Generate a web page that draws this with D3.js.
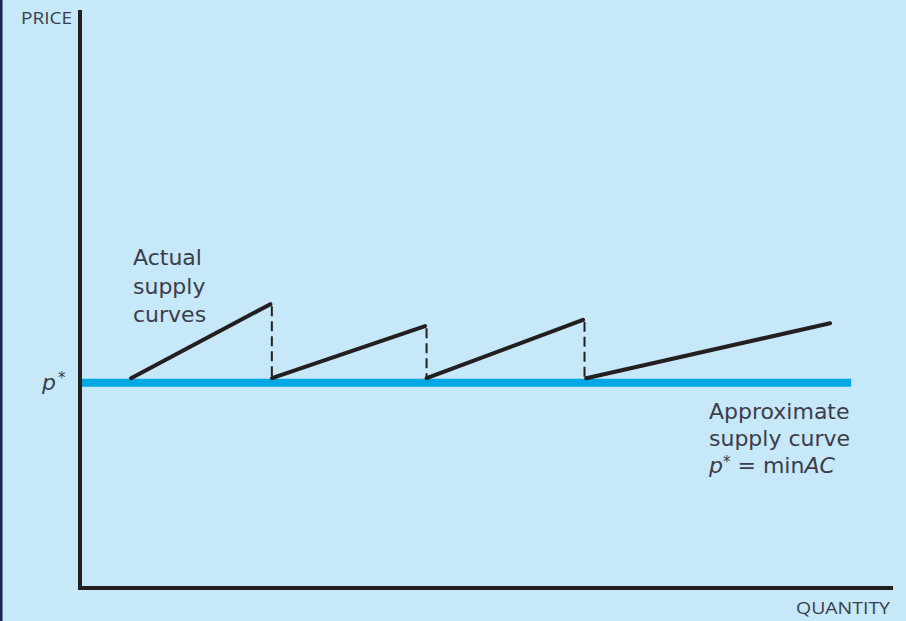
<!DOCTYPE html>
<html lang="en">
<head>
<meta charset="utf-8">
<title>Actual and approximate supply curves</title>
<script src="https://cdn.jsdelivr.net/npm/d3@7"></script>
<style>
  html, body { margin: 0; padding: 0; background: #c6e8f8; }
  svg { display: block; }
  text { fill: #3b3d4a; font-family: "Open Sans", "Noto Sans", sans-serif; }
  text.lab { font-family: "DejaVu Sans", sans-serif; }
</style>
</head>
<body>
<script>
// price level p* = min AC
var pStar = 35.5;
var pStart = 36.3;   // where each actual segment begins
// actual supply segments: quantity at start, quantity at end, price at end
var segStartQ = [6.3, 23.7, 42.8, 62.5];
var segEndQ   = [23.5, 42.6, 62.1, 92.6];
var segEndP   = [49.1, 45.3, 46.4, 45.8];
var approxEndQ = 95.2;

var w = 906, h = 621;
var svg = d3.select("body").append("svg")
    .attr("width", w)
    .attr("height", h);

// navy strip on the left edge
svg.append("rect").attr("x", 0).attr("y", 0).attr("width", 2.5).attr("height", h).attr("fill", "#1d2454");

var x = d3.scaleLinear().domain([0, 100]).range([80, 890]);
var y = d3.scaleLinear().domain([0, 100]).range([588, 10]);

// approximate supply curve
svg.append("line")
    .attr("x1", x(0)).attr("x2", x(approxEndQ))
    .attr("y1", y(pStar)).attr("y2", y(pStar))
    .attr("stroke", "#00a9e6")
    .attr("stroke-width", 8);

// dashed drops
svg.selectAll("line.drop")
   .data(segEndQ.slice(0, 3))
   .enter().append("line")
   .attr("class", "drop")
   .attr("x1", function(d){ return x(d) + 1.5; })
   .attr("x2", function(d){ return x(d) + 1.5; })
   .attr("y1", function(d, i){ return y(segEndP[i]) + 2; })
   .attr("y2", y(pStart))
   .attr("stroke", "#231f20")
   .attr("stroke-width", 2)
   .attr("stroke-dasharray", "10,5");

// actual supply segments
svg.selectAll("line.seg")
   .data(segStartQ)
   .enter().append("line")
   .attr("class", "seg")
   .attr("x1", function(d){ return x(d); })
   .attr("y1", y(pStart))
   .attr("x2", function(d, i){ return x(segEndQ[i]); })
   .attr("y2", function(d, i){ return y(segEndP[i]); })
   .attr("stroke", "#231f20")
   .attr("stroke-width", 4)
   .attr("stroke-linecap", "round");

// axes
svg.append("path")
    .attr("d", "M" + x(0) + "," + y(100) + "V" + y(0) + "H" + (x(100) + 3))
    .attr("fill", "none")
    .attr("stroke", "#231f20")
    .attr("stroke-width", 4);

svg.append("text").attr("x", 21).attr("y", 24)
   .attr("font-size", 16).attr("textLength", 51).attr("lengthAdjust", "spacingAndGlyphs")
   .text("PRICE");
svg.append("text").attr("x", 796).attr("y", 614)
   .attr("font-size", 16).attr("textLength", 94).attr("lengthAdjust", "spacingAndGlyphs")
   .text("QUANTITY");

var ps = svg.append("text").attr("class", "lab").attr("x", 42).attr("y", 390).attr("font-size", 22);
ps.append("tspan").attr("font-style", "italic").text("p");
ps.append("tspan").attr("dx", 2).attr("dy", -7).attr("font-size", 15).text("*");

// labels, one text per line
["Actual", "supply", "curves"].forEach(function(t, i){
    svg.append("text").attr("class", "lab").attr("x", 133).attr("y", 265 + i * 28.5)
       .attr("font-size", 22).text(t);
});

svg.append("text").attr("class", "lab").attr("x", 709).attr("y", 419).attr("font-size", 22).text("Approximate");
svg.append("text").attr("class", "lab").attr("x", 709).attr("y", 446).attr("font-size", 22).text("supply curve");
var l3 = svg.append("text").attr("class", "lab").attr("x", 709).attr("y", 473).attr("font-size", 22);
l3.append("tspan").attr("font-style", "italic").text("p");
l3.append("tspan").attr("dy", -6).attr("font-size", 15).text("*");
l3.append("tspan").attr("dy", 6).text(" = min");
l3.append("tspan").attr("font-style", "italic").text("AC");
</script>
</body>
</html>
